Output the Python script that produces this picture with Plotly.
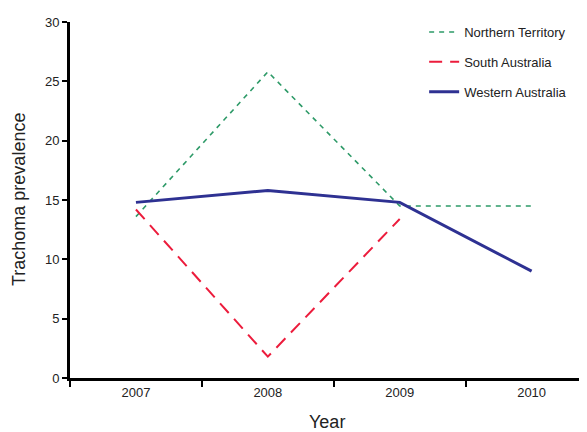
import plotly.graph_objects as go

years = ["2007", "2008", "2009", "2010"]
nt_values = [13.6, 25.8, 14.5, 14.5]
sa_values = [14.2, 1.8, 13.4, None]
wa_values = [14.8, 15.8, 14.8, 9.0]
y_ticks = [0, 5, 10, 15, 20, 25, 30]

fig = go.Figure()
fig.add_trace(go.Scatter(x=years, y=nt_values, mode="lines", name="Northern Territory",
                         legendgroup="nt",
                         line=dict(color="#2E9A68", width=1.6, dash="5px,5px")))
fig.add_trace(go.Scatter(x=years, y=sa_values, mode="lines", name="South Australia",
                         legendgroup="sa", connectgaps=False,
                         line=dict(color="#EC1C3C", width=2, dash="13px,8px")))
fig.add_trace(go.Scatter(x=years, y=wa_values, mode="lines", name="Western Australia",
                         legendgroup="wa",
                         line=dict(color="#2E3192", width=3)))

# page body has an 8px margin, so the figure is sized to fill the rest of the window
fig.update_layout(
    width=579, height=424,
    margin=dict(l=62, r=0, t=14, b=54),
    paper_bgcolor="white", plot_bgcolor="white",
    font=dict(family="Liberation Sans, Arial, sans-serif", color="#222222", size=13),
    showlegend=True,
    legend=dict(x=0.685, y=1.014, xanchor="left", yanchor="top",
                bgcolor="rgba(0,0,0,0)", font=dict(size=13, color="#222222"),
                tracegroupgap=10),
    xaxis=dict(type="category", range=[-0.5, 3.42], tickson="boundaries",
               ticks="outside", ticklen=6, tickwidth=2, tickcolor="black",
               showline=True, linecolor="black", linewidth=3, showgrid=False,
               zeroline=False, automargin=False,
               tickfont=dict(size=13)),
    yaxis=dict(range=[0, 30], tickvals=y_ticks, ticks="outside", ticklen=5,
               tickwidth=2, tickcolor="black",
               showline=True, linecolor="black", linewidth=3, showgrid=False,
               zeroline=False, automargin=False,
               tickfont=dict(size=13)),
    annotations=[
        dict(text="Year", xref="paper", yref="paper", x=(327 - 70) / 517, y=-(422 - 378) / 356,
             xanchor="center", yanchor="middle", showarrow=False,
             font=dict(size=18, color="#222222")),
        dict(text="Trachoma prevalence", xref="paper", yref="paper",
             x=-(70 - 19) / 517, y=(378 - 200) / 356, textangle=-90,
             xanchor="center", yanchor="middle", showarrow=False,
             font=dict(size=18, color="#222222")),
    ],
)

fig.write_html("out.html")
